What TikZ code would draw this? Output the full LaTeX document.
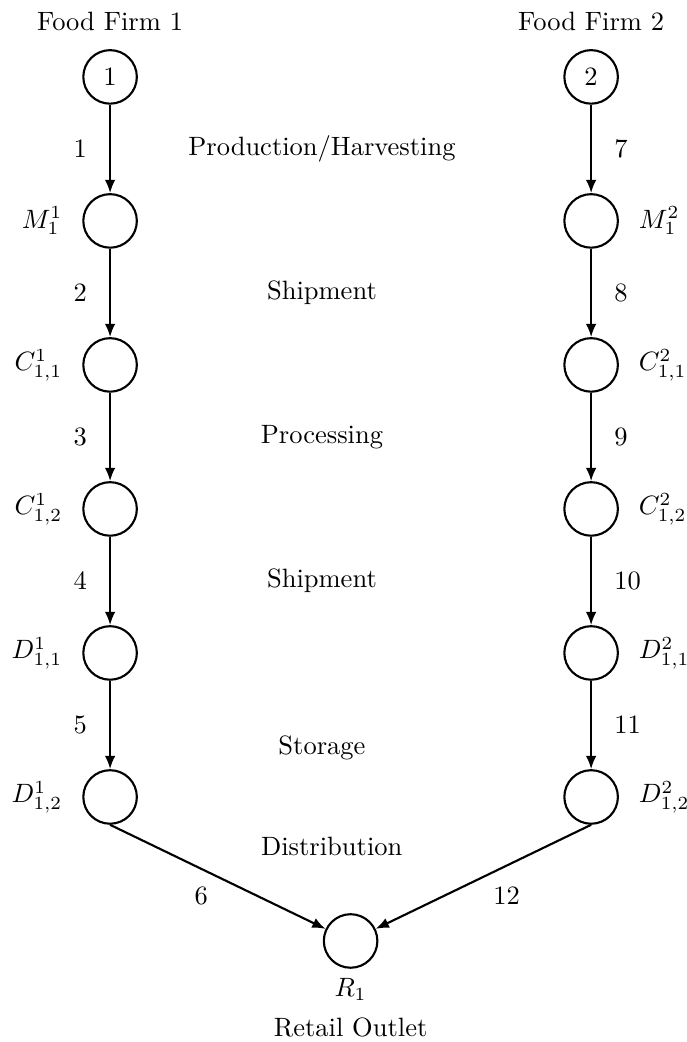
\documentclass[tikz,border=0pt]{standalone}
\usetikzlibrary{positioning,arrows.meta}
\begin{document}
\begin{tikzpicture}[
    circ/.style={circle, draw=black, thick, minimum size=0.71cm, inner sep=0pt},
    flow/.style={thick, -{Latex[length=5pt,width=4pt]}},
    lab/.style={label distance=4pt}
]
\pgfmathsetmacro{\dx}{6.38}
\pgfmathsetmacro{\dy}{1.91}
\pgfmathsetmacro{\mx}{2.81}
\useasboundingbox (-1.46,-12.80) rectangle (7.65,1.02);

%% food firm 1
\node at (0,0.74) (firm1) {Food Firm 1};
\node[circ] (f1) at (0,0) {1};
\node[circ, label={[lab]left:$M_1^1$}] (m1) at (0,-\dy) {};
\node[circ, label={[lab]left:$C_{1,1}^1$}] (ca1) at (0,-2*\dy) {};
\node[circ, label={[lab]left:$C_{1,2}^1$}] (cb1) at (0,-3*\dy) {};
\node[circ, label={[lab]left:$D_{1,1}^1$}] (da1) at (0,-4*\dy) {};
\node[circ, label={[lab]left:$D_{1,2}^1$}] (db1) at (0,-5*\dy) {};
\draw[flow] (f1)  -- node[left=5pt] {1} (m1);
\draw[flow] (m1)  -- node[left=5pt] {2} (ca1);
\draw[flow] (ca1) -- node[left=5pt] {3} (cb1);
\draw[flow] (cb1) -- node[left=5pt] {4} (da1);
\draw[flow] (da1) -- node[left=5pt] {5} (db1);

%% food firm 2
\node at (\dx,0.74) (firm2) {Food Firm 2};
\node[circ] (f2) at (\dx,0) {2};
\node[circ, label={[lab]right:$M_1^2$}] (m2) at (\dx,-\dy) {};
\node[circ, label={[lab]right:$C_{1,1}^2$}] (ca2) at (\dx,-2*\dy) {};
\node[circ, label={[lab]right:$C_{1,2}^2$}] (cb2) at (\dx,-3*\dy) {};
\node[circ, label={[lab]right:$D_{1,1}^2$}] (da2) at (\dx,-4*\dy) {};
\node[circ, label={[lab]right:$D_{1,2}^2$}] (db2) at (\dx,-5*\dy) {};
\draw[flow] (f2)  -- node[right=5pt] {7} (m2);
\draw[flow] (m2)  -- node[right=5pt] {8} (ca2);
\draw[flow] (ca2) -- node[right=5pt] {9} (cb2);
\draw[flow] (cb2) -- node[right=5pt] {10} (da2);
\draw[flow] (da2) -- node[right=5pt] {11} (db2);

%% retail outlet
\node[circ, label=below:$R_1$] (r1) at (3.19,-6*\dy) {};
\node at (3.19,-12.61) (outlet) {Retail Outlet};
\draw[flow] (db1.south) -- node[below left] {6} (r1);
\draw[flow] (db2.south) -- node[below right] {12} (r1);

%% stages
\node at (\mx,-0.5*\dy) (prod) {Production/Harvesting};
\node at (\mx,-1.5*\dy) (ship1) {Shipment};
\node at (\mx,-2.5*\dy) (proc) {Processing};
\node at (\mx,-3.5*\dy) (ship2) {Shipment};
\node at (\mx,-8.90) (store) {Storage};
\node at (2.94,-10.21) (dist) {Distribution};
\end{tikzpicture}
\end{document}
